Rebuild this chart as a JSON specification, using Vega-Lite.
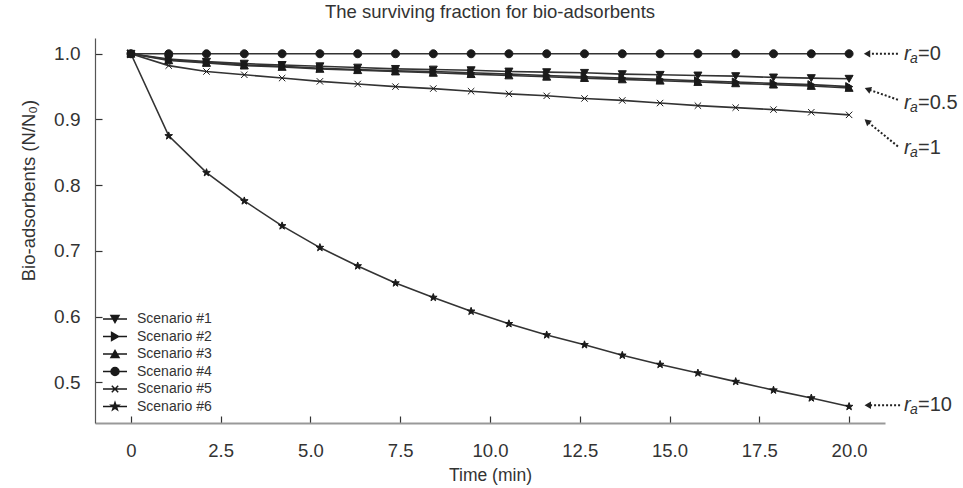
{
  "$schema": "https://vega.github.io/schema/vega-lite/v6.json",
  "width": 790,
  "height": 385,
  "autosize": "none",
  "padding": {"left": 95, "top": 38, "right": 78, "bottom": 65},
  "title": {"text": "The surviving fraction for bio-adsorbents", "fontSize": 18.5, "font": "Liberation Sans", "fontWeight": "normal", "color": "#333", "offset": 17},
  "config": {"view": {"stroke": null}, "font": "Liberation Sans"},
  "datasets": {
    "curves": [
      {"s":"Scenario #1","t":0,"v":1},{"s":"Scenario #1","t":1.0526,"v":0.992},{"s":"Scenario #1","t":2.1053,"v":0.988},{"s":"Scenario #1","t":3.1579,"v":0.985},{"s":"Scenario #1","t":4.2105,"v":0.983},{"s":"Scenario #1","t":5.2632,"v":0.981},{"s":"Scenario #1","t":6.3158,"v":0.979},{"s":"Scenario #1","t":7.3684,"v":0.977},{"s":"Scenario #1","t":8.4211,"v":0.976},{"s":"Scenario #1","t":9.4737,"v":0.975},{"s":"Scenario #1","t":10.5263,"v":0.973},{"s":"Scenario #1","t":11.5789,"v":0.972},{"s":"Scenario #1","t":12.6316,"v":0.971},{"s":"Scenario #1","t":13.6842,"v":0.969},{"s":"Scenario #1","t":14.7368,"v":0.968},{"s":"Scenario #1","t":15.7895,"v":0.967},{"s":"Scenario #1","t":16.8421,"v":0.966},{"s":"Scenario #1","t":17.8947,"v":0.964},{"s":"Scenario #1","t":18.9474,"v":0.963},{"s":"Scenario #1","t":20,"v":0.962},
      {"s":"Scenario #2","t":0,"v":1},{"s":"Scenario #2","t":1.0526,"v":0.991},{"s":"Scenario #2","t":2.1053,"v":0.987},{"s":"Scenario #2","t":3.1579,"v":0.983},{"s":"Scenario #2","t":4.2105,"v":0.981},{"s":"Scenario #2","t":5.2632,"v":0.978},{"s":"Scenario #2","t":6.3158,"v":0.976},{"s":"Scenario #2","t":7.3684,"v":0.974},{"s":"Scenario #2","t":8.4211,"v":0.973},{"s":"Scenario #2","t":9.4737,"v":0.971},{"s":"Scenario #2","t":10.5263,"v":0.969},{"s":"Scenario #2","t":11.5789,"v":0.967},{"s":"Scenario #2","t":12.6316,"v":0.965},{"s":"Scenario #2","t":13.6842,"v":0.963},{"s":"Scenario #2","t":14.7368,"v":0.961},{"s":"Scenario #2","t":15.7895,"v":0.959},{"s":"Scenario #2","t":16.8421,"v":0.957},{"s":"Scenario #2","t":17.8947,"v":0.955},{"s":"Scenario #2","t":18.9474,"v":0.953},{"s":"Scenario #2","t":20,"v":0.950},
      {"s":"Scenario #3","t":0,"v":1},{"s":"Scenario #3","t":1.0526,"v":0.990},{"s":"Scenario #3","t":2.1053,"v":0.986},{"s":"Scenario #3","t":3.1579,"v":0.982},{"s":"Scenario #3","t":4.2105,"v":0.980},{"s":"Scenario #3","t":5.2632,"v":0.977},{"s":"Scenario #3","t":6.3158,"v":0.975},{"s":"Scenario #3","t":7.3684,"v":0.973},{"s":"Scenario #3","t":8.4211,"v":0.971},{"s":"Scenario #3","t":9.4737,"v":0.969},{"s":"Scenario #3","t":10.5263,"v":0.967},{"s":"Scenario #3","t":11.5789,"v":0.965},{"s":"Scenario #3","t":12.6316,"v":0.963},{"s":"Scenario #3","t":13.6842,"v":0.961},{"s":"Scenario #3","t":14.7368,"v":0.959},{"s":"Scenario #3","t":15.7895,"v":0.957},{"s":"Scenario #3","t":16.8421,"v":0.955},{"s":"Scenario #3","t":17.8947,"v":0.953},{"s":"Scenario #3","t":18.9474,"v":0.951},{"s":"Scenario #3","t":20,"v":0.948},
      {"s":"Scenario #4","t":0,"v":1},{"s":"Scenario #4","t":1.0526,"v":1},{"s":"Scenario #4","t":2.1053,"v":1},{"s":"Scenario #4","t":3.1579,"v":1},{"s":"Scenario #4","t":4.2105,"v":1},{"s":"Scenario #4","t":5.2632,"v":1},{"s":"Scenario #4","t":6.3158,"v":1},{"s":"Scenario #4","t":7.3684,"v":1},{"s":"Scenario #4","t":8.4211,"v":1},{"s":"Scenario #4","t":9.4737,"v":1},{"s":"Scenario #4","t":10.5263,"v":1},{"s":"Scenario #4","t":11.5789,"v":1},{"s":"Scenario #4","t":12.6316,"v":1},{"s":"Scenario #4","t":13.6842,"v":1},{"s":"Scenario #4","t":14.7368,"v":1},{"s":"Scenario #4","t":15.7895,"v":1},{"s":"Scenario #4","t":16.8421,"v":1},{"s":"Scenario #4","t":17.8947,"v":1},{"s":"Scenario #4","t":18.9474,"v":1},{"s":"Scenario #4","t":20,"v":1},
      {"s":"Scenario #5","t":0,"v":1},{"s":"Scenario #5","t":1.0526,"v":0.982},{"s":"Scenario #5","t":2.1053,"v":0.973},{"s":"Scenario #5","t":3.1579,"v":0.968},{"s":"Scenario #5","t":4.2105,"v":0.963},{"s":"Scenario #5","t":5.2632,"v":0.958},{"s":"Scenario #5","t":6.3158,"v":0.954},{"s":"Scenario #5","t":7.3684,"v":0.950},{"s":"Scenario #5","t":8.4211,"v":0.947},{"s":"Scenario #5","t":9.4737,"v":0.943},{"s":"Scenario #5","t":10.5263,"v":0.939},{"s":"Scenario #5","t":11.5789,"v":0.936},{"s":"Scenario #5","t":12.6316,"v":0.932},{"s":"Scenario #5","t":13.6842,"v":0.929},{"s":"Scenario #5","t":14.7368,"v":0.925},{"s":"Scenario #5","t":15.7895,"v":0.921},{"s":"Scenario #5","t":16.8421,"v":0.918},{"s":"Scenario #5","t":17.8947,"v":0.915},{"s":"Scenario #5","t":18.9474,"v":0.911},{"s":"Scenario #5","t":20,"v":0.907},
      {"s":"Scenario #6","t":0,"v":1},{"s":"Scenario #6","t":1.0526,"v":0.875},{"s":"Scenario #6","t":2.1053,"v":0.819},{"s":"Scenario #6","t":3.1579,"v":0.776},{"s":"Scenario #6","t":4.2105,"v":0.738},{"s":"Scenario #6","t":5.2632,"v":0.705},{"s":"Scenario #6","t":6.3158,"v":0.677},{"s":"Scenario #6","t":7.3684,"v":0.651},{"s":"Scenario #6","t":8.4211,"v":0.629},{"s":"Scenario #6","t":9.4737,"v":0.608},{"s":"Scenario #6","t":10.5263,"v":0.589},{"s":"Scenario #6","t":11.5789,"v":0.572},{"s":"Scenario #6","t":12.6316,"v":0.557},{"s":"Scenario #6","t":13.6842,"v":0.541},{"s":"Scenario #6","t":14.7368,"v":0.527},{"s":"Scenario #6","t":15.7895,"v":0.514},{"s":"Scenario #6","t":16.8421,"v":0.501},{"s":"Scenario #6","t":17.8947,"v":0.488},{"s":"Scenario #6","t":18.9474,"v":0.476},{"s":"Scenario #6","t":20,"v":0.463}
    ],
    "arrows": [
      {"ra":"0","x1":21.36,"y1":1.0,"x2":20.5,"y2":1.0},
      {"ra":"0.5","x1":21.36,"y1":0.930,"x2":20.52,"y2":0.946},
      {"ra":"1","x1":21.36,"y1":0.859,"x2":20.5,"y2":0.897},
      {"ra":"10","x1":21.42,"y1":0.465,"x2":20.52,"y2":0.465}
    ],
    "labels": [
      {"ra":"0","x":21.53,"y":1.0,"txt":"=0"},
      {"ra":"0.5","x":21.53,"y":0.925,"txt":"=0.5"},
      {"ra":"1","x":21.53,"y":0.857,"txt":"=1"},
      {"ra":"10","x":21.53,"y":0.465,"txt":"=10"}
    ]
  },
  "resolve": {"scale": {"shape": "independent"}, "legend": {"shape": "independent"}},
  "layer": [
    {
      "data": {"name": "curves"},
      "mark": {"type": "line", "color": "#333", "strokeWidth": 1.6},
      "encoding": {
        "x": {"field": "t", "type": "quantitative", "title": "Time (min)",
              "scale": {"domain": [-1, 21], "nice": false, "zero": false},
              "axis": {"values": [0, 2.5, 5, 7.5, 10, 12.5, 15, 17.5, 20], "labelExpr": "datum.value == 0 ? '0' : format(datum.value, '.1f')",
                       "grid": false, "domainColor": "#999", "domainWidth": 2, "tickColor": "#333", "tickWidth": 1.2, "tickSize": -7, "labelPadding": 25,
                       "labelFontSize": 18.5, "labelColor": "#333", "labelFont": "Liberation Sans", "titleFont": "Liberation Sans", "titleFontSize": 17.5, "titleFontWeight": "normal", "titleColor": "#333", "titlePadding": 7}},
        "y": {"field": "v", "type": "quantitative", "title": "Bio-adsorbents (N/N₀)",
              "scale": {"domain": [0.438, 1.024], "nice": false, "zero": false},
              "axis": {"values": [0.5, 0.6, 0.7, 0.8, 0.9, 1.0], "format": ".1f",
                       "grid": false, "domainColor": "#555", "domainWidth": 1.2, "tickColor": "#333", "tickWidth": 1.2, "tickSize": -7, "labelPadding": 22,
                       "labelFontSize": 19, "labelColor": "#333", "labelFont": "Liberation Sans", "titleFont": "Liberation Sans", "titleFontSize": 18.5, "titleFontWeight": "normal", "titleColor": "#333", "titlePadding": 15, "titleY": 152}},
        "detail": {"field": "s", "type": "nominal"}
      }
    },
    {
      "data": {"name": "curves"},
      "mark": {"type": "point", "filled": true, "color": "#1a1a1a", "stroke": "#1a1a1a", "strokeWidth": 1, "opacity": 1, "size": 64},
      "encoding": {
        "x": {"field": "t", "type": "quantitative", "title": "Time (min)"},
        "y": {"field": "v", "type": "quantitative", "title": "Bio-adsorbents (N/N₀)"},
        "shape": {"field": "s", "type": "nominal", "legend": null,
          "scale": {"domain": ["Scenario #1","Scenario #2","Scenario #3","Scenario #4","Scenario #5","Scenario #6"],
                    "range": ["M-1,-0.85L1,-0.85L0,0.9Z", "M-0.85,-1L0.9,0L-0.85,1Z", "M-1,0.85L1,0.85L0,-0.9Z", "M-1,0A1,1,0,1,0,1,0A1,1,0,1,0,-1,0Z", "M-0.8,-0.8L0.8,0.8M-0.8,0.8L0.8,-0.8", "M0,-1L0.235,-0.324L0.951,-0.309L0.38,0.124L0.588,0.809L0,0.4L-0.588,0.809L-0.38,0.124L-0.951,-0.309L-0.235,-0.324Z"]}}
      }
    },
    {
      "data": {"name": "curves"},
      "transform": [{"filter": "false"}],
      "mark": {"type": "point", "filled": true, "color": "#1a1a1a", "stroke": "#1a1a1a", "strokeWidth": 1.4, "opacity": 1, "size": 64},
      "encoding": {
        "x": {"field": "t", "type": "quantitative", "title": "Time (min)"},
        "y": {"field": "v", "type": "quantitative", "title": "Bio-adsorbents (N/N₀)"},
        "shape": {"field": "s", "type": "nominal",
          "scale": {"domain": ["Scenario #1","Scenario #2","Scenario #3","Scenario #4","Scenario #5","Scenario #6"],
                    "range": ["M-3,0H3M-1,-0.85L1,-0.85L0,0.9Z", "M-3,0H3M-0.85,-1L0.9,0L-0.85,1Z", "M-3,0H3M-1,0.85L1,0.85L0,-0.9Z", "M-3,0H3M-1,0A1,1,0,1,0,1,0A1,1,0,1,0,-1,0Z", "M-3,0H3M-0.8,-0.8L0.8,0.8M-0.8,0.8L0.8,-0.8", "M-3,0H3M0,-1L0.235,-0.324L0.951,-0.309L0.38,0.124L0.588,0.809L0,0.4L-0.588,0.809L-0.38,0.124L-0.951,-0.309L-0.235,-0.324Z"]},
          "legend": {"title": null, "orient": "none", "legendX": 13, "legendY": 274, "symbolSize": 64, "labelFontSize": 14, "labelColor": "#333", "labelFont": "Liberation Sans", "labelOffset": 15, "rowPadding": 3.5,
            "encode": {"symbols": {"update": {"stroke": {"value": "#1a1a1a"}, "fill": {"value": "#1a1a1a"}, "strokeWidth": {"value": 1.4}}}}}}
      }
    },
    {
      "data": {"name": "arrows"},
      "mark": {"type": "rule", "color": "#222", "strokeWidth": 2, "strokeDash": [2, 2]},
      "encoding": {
        "x": {"field": "x1", "type": "quantitative", "title": "Time (min)"},
        "x2": {"field": "x2"},
        "y": {"field": "y1", "type": "quantitative", "title": "Bio-adsorbents (N/N₀)"},
        "y2": {"field": "y2"}
      }
    },
    {
      "data": {"name": "arrows"},
      "transform": [{"filter": "datum.ra == '0' || datum.ra == '10'"}],
      "mark": {"type": "point", "shape": "triangle-left", "filled": true, "color": "#222", "size": 55, "opacity": 1},
      "encoding": {
        "x": {"field": "x2", "type": "quantitative", "title": "Time (min)"},
        "y": {"field": "y2", "type": "quantitative", "title": "Bio-adsorbents (N/N₀)"}
      }
    },
    {
      "data": {"name": "arrows"},
      "transform": [{"filter": "datum.ra == '0.5'"}],
      "mark": {"type": "point", "shape": "triangle-left", "filled": true, "color": "#222", "size": 55, "opacity": 1, "angle": 21},
      "encoding": {
        "x": {"field": "x2", "type": "quantitative", "title": "Time (min)"},
        "y": {"field": "y2", "type": "quantitative", "title": "Bio-adsorbents (N/N₀)"}
      }
    },
    {
      "data": {"name": "arrows"},
      "transform": [{"filter": "datum.ra == '1'"}],
      "mark": {"type": "point", "shape": "triangle-left", "filled": true, "color": "#222", "size": 55, "opacity": 1, "angle": 40},
      "encoding": {
        "x": {"field": "x2", "type": "quantitative", "title": "Time (min)"},
        "y": {"field": "y2", "type": "quantitative", "title": "Bio-adsorbents (N/N₀)"}
      }
    },
    {
      "data": {"name": "labels"},
      "mark": {"type": "text", "align": "left", "baseline": "middle", "fontSize": 20, "fontStyle": "italic", "font": "Liberation Sans", "color": "#333", "text": "r"},
      "encoding": {
        "x": {"field": "x", "type": "quantitative", "title": "Time (min)"},
        "y": {"field": "y", "type": "quantitative", "title": "Bio-adsorbents (N/N₀)"}
      }
    },
    {
      "data": {"name": "labels"},
      "mark": {"type": "text", "align": "left", "baseline": "middle", "fontSize": 14, "fontStyle": "italic", "font": "Liberation Sans", "color": "#333", "text": "a", "dx": 6, "dy": 5},
      "encoding": {
        "x": {"field": "x", "type": "quantitative", "title": "Time (min)"},
        "y": {"field": "y", "type": "quantitative", "title": "Bio-adsorbents (N/N₀)"}
      }
    },
    {
      "data": {"name": "labels"},
      "mark": {"type": "text", "align": "left", "baseline": "middle", "fontSize": 20, "font": "Liberation Sans", "color": "#333", "dx": 14},
      "encoding": {
        "x": {"field": "x", "type": "quantitative", "title": "Time (min)"},
        "y": {"field": "y", "type": "quantitative", "title": "Bio-adsorbents (N/N₀)"},
        "text": {"field": "txt"}
      }
    }
  ]
}
